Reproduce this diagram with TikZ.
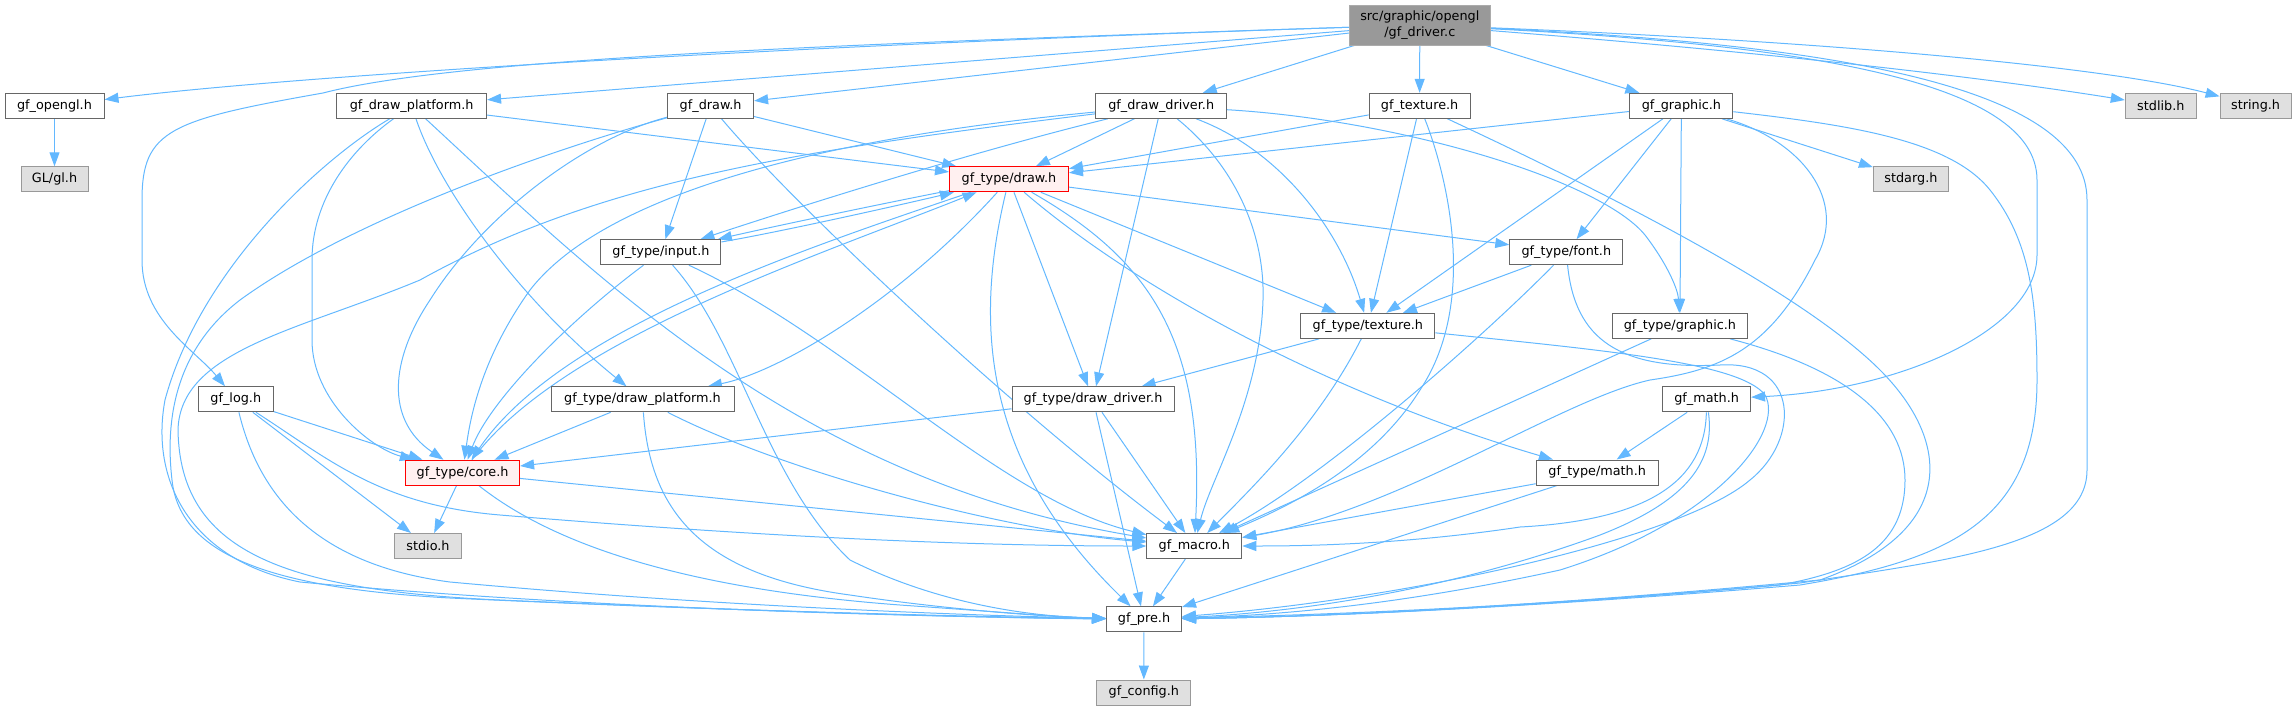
\documentclass[tikz,border=0pt]{standalone}
\usepackage{fontspec}
\newfontfamily\dvs{DejaVu Sans}
\usetikzlibrary{arrows.meta}
\definecolor{edgec}{HTML}{63B8FF}
\definecolor{g40}{HTML}{666666}
\definecolor{g60}{HTML}{999999}
\definecolor{gE0}{HTML}{E0E0E0}
\definecolor{rfill}{HTML}{FFF0F0}
\definecolor{rootb}{HTML}{ABABAB}
\pgfdeclarelayer{bg}
\pgfsetlayers{bg,main}
\tikzset{
 nbox/.style={draw=g40, fill=white, line width=0.75pt, minimum height=18.75pt, inner sep=0pt, font=\dvs\fontsize{9.6}{12}\selectfont, text=black},
 extbox/.style={nbox, draw=g60, fill=gE0},
 redbox/.style={nbox, draw=red, fill=rfill},
 rootbox/.style={nbox, draw=rootb, fill=g60, minimum height=30pt, align=center},
 edg/.style={draw=edgec, line width=0.75pt, -{Triangle[length=10.5pt,width=7.5pt]}},
}
\begin{document}
\begin{tikzpicture}[x=0.75pt,y=-0.75pt]
\useasboundingbox (0,0) rectangle (2295,711);
% nodes
\node[rootbox, minimum width=105.75pt] (D) at (1419.8,25) {src/graphic/opengl\\/gf\_driver.c};
\node[nbox, minimum width=74.25pt] (opengl) at (54.5,105.8) {gf\_opengl.h};
\node[extbox, minimum width=50.25pt] (gl) at (54.5,179.3) {GL/gl.h};
\node[nbox, minimum width=112.5pt] (drawplat) at (411.6,105.8) {gf\_draw\_platform.h};
\node[nbox, minimum width=64.5pt] (draw) at (710.6,105.8) {gf\_draw.h};
\node[nbox, minimum width=98.25pt] (ddrv) at (1161.2,105.8) {gf\_draw\_driver.h};
\node[nbox, minimum width=75.75pt] (tex) at (1419.6,105.8) {gf\_texture.h};
\node[nbox, minimum width=77.25pt] (graphic) at (1681.4,105.8) {gf\_graphic.h};
\node[extbox, minimum width=53.25pt] (stdlib) at (2160.8,105.8) {stdlib.h};
\node[extbox, minimum width=53.25pt] (string) at (2255.6,105.8) {string.h};
\node[extbox, minimum width=56.25pt] (stdarg) at (1910.9,179.3) {stdarg.h};
\node[redbox, minimum width=89.25pt] (tdraw) at (1009,179.3) {gf\_type/draw.h};
\node[nbox, minimum width=90pt] (tinput) at (660.9,252.2) {gf\_type/input.h};
\node[nbox, minimum width=84.75pt] (tfont) at (1566.3,252.2) {gf\_type/font.h};
\node[nbox, minimum width=100.5pt] (ttex) at (1367.9,325.8) {gf\_type/texture.h};
\node[nbox, minimum width=101.25pt] (tgraphic) at (1679.9,325.8) {gf\_type/graphic.h};
\node[nbox, minimum width=56.25pt] (log) at (235.8,399.3) {gf\_log.h};
\node[nbox, minimum width=137.25pt] (tdplat) at (642.5,399.3) {gf\_type/draw\_platform.h};
\node[nbox, minimum width=121.5pt] (tddrv) at (1093,399.3) {gf\_type/draw\_driver.h};
\node[nbox, minimum width=66pt] (math) at (1706.6,399.3) {gf\_math.h};
\node[redbox, minimum width=85.5pt] (tcore) at (462.6,472.7) {gf\_type/core.h};
\node[nbox, minimum width=91.5pt] (tmath) at (1597.2,472.5) {gf\_type/math.h};
\node[extbox, minimum width=50.25pt] (stdio) at (428,546) {stdio.h};
\node[nbox, minimum width=71.25pt] (macro) at (1194.3,546) {gf\_macro.h};
\node[nbox, minimum width=56.25pt] (pre) at (1144,619.3) {gf\_pre.h};
\node[extbox, minimum width=70.5pt] (config) at (1143.8,692.5) {gf\_config.h};
\begin{pgfonlayer}{bg}
% root
\draw[edg] (D) .. controls (800,45) and (300,75) .. (opengl);
\draw[edg] (D) .. controls (800,45) and (450,60) .. (323,93) .. controls (170,120) and (142,130) .. (142,200) -- (142,260) .. controls (142,320) and (195,350) .. (log);
\draw[edg] (D) -- (drawplat);
\draw[edg] (D) -- (draw);
\draw[edg] (D) -- (ddrv);
\draw[edg] (D) -- (tex);
\draw[edg] (D) -- (graphic);
\draw[edg] (D) .. controls (1800,55) and (2000,80) .. (stdlib);
\draw[edg] (D) .. controls (1800,40) and (2100,65) .. (string);
\draw[edg] (D) .. controls (1800,45) and (2037,80) .. (2037,180) -- (2037,255) .. controls (2037,330) and (1900,390) .. (math);
\draw[edg] (D) .. controls (1850,45) and (2087,90) .. (2087,200) -- (2087,470) .. controls (2087,545) and (1950,560) .. (1800,583) .. controls (1500,610) and (1300,615) .. (pre);
\draw[edg] (opengl) -- (gl);
% gf_draw_platform.h
\draw[edg] (drawplat) -- (tdraw);
\draw[edg] (drawplat) .. controls (350,150) and (312,200) .. (312,260) -- (312,340) .. controls (312,400) and (370,448) .. (tcore);
\draw[edg] (drawplat) .. controls (440,190) and (520,300) .. (tdplat);
\draw[edg] (drawplat) .. controls (600,280) and (800,480) .. (macro);
\draw[edg] (drawplat) .. controls (320,160) and (200,270) .. (165,400) .. controls (150,480) and (190,560) .. (300,582) .. controls (600,610) and (950,617) .. (pre);
% gf_draw.h
\draw[edg] (draw) -- (tdraw);
\draw[edg] (draw) -- (tinput);
\draw[edg] (draw) .. controls (580,140) and (480,220) .. (430,300) .. controls (390,360) and (385,420) .. (tcore);
\draw[edg] (draw) .. controls (790,200) and (1000,400) .. (macro);
\draw[edg] (draw) .. controls (550,150) and (350,220) .. (240,300) .. controls (175,350) and (165,420) .. (172,480) .. controls (180,555) and (270,588) .. (450,598) .. controls (750,612) and (1000,617) .. (pre);
% gf_draw_driver.h
\draw[edg] (ddrv) -- (tdraw);
\draw[edg] (ddrv) .. controls (1000,145) and (850,190) .. (tinput);
\draw[edg] (ddrv) .. controls (800,140) and (600,200) .. (530,290) .. controls (480,360) and (470,420) .. (tcore);
\draw[edg] (ddrv) .. controls (800,150) and (600,180) .. (420,280) .. controls (300,330) and (180,350) .. (178,430) .. controls (180,550) and (280,590) .. (500,600) .. controls (800,613) and (1000,618) .. (pre);
\draw[edg] (ddrv) -- (tddrv);
\draw[edg] (ddrv) .. controls (1280,150) and (1340,230) .. (ttex);
\draw[edg] (ddrv) .. controls (1240,170) and (1265,240) .. (1263,300) .. controls (1260,400) and (1210,480) .. (macro);
\draw[edg] (ddrv) .. controls (1400,120) and (1600,180) .. (1645,235) .. controls (1668,265) and (1678,290) .. (tgraphic);
% gf_texture.h
\draw[edg] (tex) -- (tdraw);
\draw[edg] (tex) -- (ttex);
\draw[edg] (tex) .. controls (1445,170) and (1480,300) .. (1420,390) .. controls (1370,470) and (1280,510) .. (macro);
\draw[edg] (tex) .. controls (1600,190) and (1800,290) .. (1880,370) .. controls (1950,440) and (1960,530) .. (1820,580) .. controls (1500,610) and (1300,617) .. (pre);
% gf_graphic.h
\draw[edg] (graphic) -- (tdraw);
\draw[edg] (graphic) -- (ttex);
\draw[edg] (graphic) -- (tfont);
\draw[edg] (graphic) -- (tgraphic);
\draw[edg] (graphic) -- (stdarg);
\draw[edg] (graphic) .. controls (1800,140) and (1850,200) .. (1815,260) .. controls (1770,350) and (1720,370) .. (1650,380) .. controls (1560,400) and (1400,510) .. (macro);
\draw[edg] (graphic) .. controls (1850,125) and (1950,140) .. (1990,190) .. controls (2030,240) and (2037,300) .. (2037,380) .. controls (2037,520) and (1950,560) .. (1800,585) .. controls (1500,610) and (1300,617) .. (pre);
% gf_type/draw.h
\draw[edg] (tdraw) .. controls (900,200) and (780,225) .. (tinput);
\draw[edg] (tdraw) -- (tfont);
\draw[edg] (tdraw) -- (ttex);
\draw[edg] (tdraw) -- (tddrv);
\draw[edg] (tdraw) .. controls (900,300) and (780,372) .. (tdplat);
\draw[edg] (tdraw) .. controls (800,250) and (560,330) .. (tcore);
\draw[edg] (tdraw) .. controls (1150,300) and (1350,400) .. (tmath);
\draw[edg] (tdraw) .. controls (1150,260) and (1205,340) .. (macro);
\draw[edg] (tdraw) .. controls (975,320) and (980,460) .. (pre);
% gf_type/input.h
\draw[edg] (tinput) .. controls (780,232) and (900,205) .. (tdraw);
\draw[edg] (tinput) .. controls (570,320) and (490,400) .. (tcore);
\draw[edg] (tinput) .. controls (850,340) and (1000,500) .. (macro);
\draw[edg] (tinput) .. controls (740,340) and (765,480) .. (850,560) .. controls (950,610) and (1050,617) .. (pre);
% gf_type/font.h
\draw[edg] (tfont) -- (ttex);
\draw[edg] (tfont) .. controls (1480,340) and (1320,480) .. (macro);
\draw[edg] (tfont) .. controls (1575,340) and (1620,370) .. (1720,365) .. controls (1800,360) and (1800,440) .. (1750,480) .. controls (1680,540) and (1400,600) .. (pre);
% gf_type/graphic.h
\draw[edg] (tgraphic) -- (macro);
\draw[edg] (tgraphic) .. controls (1850,370) and (1905,420) .. (1905,480) .. controls (1905,550) and (1850,572) .. (1780,585) .. controls (1500,610) and (1300,617) .. (pre);
% gf_type/texture.h
\draw[edg] (ttex) -- (tddrv);
\draw[edg] (ttex) .. controls (1320,420) and (1260,480) .. (macro);
\draw[edg] (ttex) .. controls (1600,350) and (1740,362) .. (1765,395) .. controls (1785,430) and (1720,520) .. (1560,570) .. controls (1400,605) and (1280,615) .. (pre);
% gf_type/draw_platform.h
\draw[edg] (tdplat) -- (tcore);
\draw[edg] (tdplat) .. controls (780,470) and (1000,530) .. (macro);
\draw[edg] (tdplat) .. controls (650,510) and (700,575) .. (850,595) .. controls (950,610) and (1050,617) .. (pre);
% gf_type/draw_driver.h
\draw[edg] (tddrv) -- (tcore);
\draw[edg] (tddrv) -- (macro);
\draw[edg] (tddrv) -- (pre);
% gf_type/core.h
\draw[edg] (tcore) -- (stdio);
\draw[edg] (tcore) -- (macro);
\draw[edg] (tcore) .. controls (560,550) and (700,590) .. (900,605) .. controls (1000,612) and (1060,617) .. (pre);
\draw[edg] (tcore) .. controls (560,340) and (820,255) .. (tdraw);
% gf_log.h
\draw[edg] (log) -- (tcore);
\draw[edg] (log) -- (stdio);
\draw[edg] (log) .. controls (330,460) and (380,505) .. (500,515) .. controls (800,540) and (1000,546) .. (macro);
\draw[edg] (log) .. controls (260,500) and (320,565) .. (450,582) .. controls (700,605) and (950,615) .. (pre);
% gf_math.h
\draw[edg] (math) -- (tmath);
\draw[edg] (math) .. controls (1705,480) and (1650,520) .. (1520,527) .. controls (1400,545) and (1300,546) .. (macro);
\draw[edg] (math) .. controls (1715,460) and (1690,500) .. (1600,535) .. controls (1450,590) and (1300,612) .. (pre);
% gf_type/math.h
\draw[edg] (tmath) -- (macro);
\draw[edg] (tmath) -- (pre);
% bottom
\draw[edg] (macro) -- (pre);
\draw[edg] (pre) -- (config);
\end{pgfonlayer}
\end{tikzpicture}
\end{document}
